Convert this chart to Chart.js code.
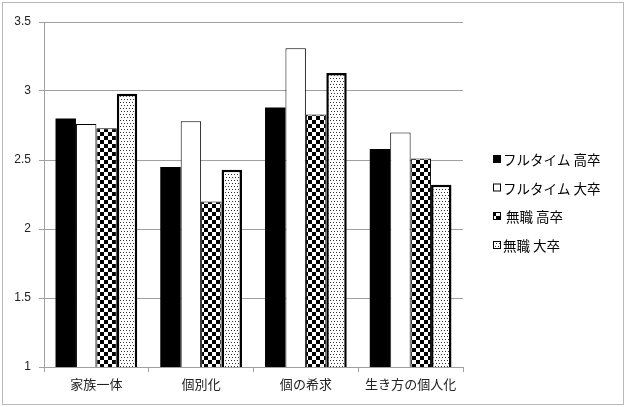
<!DOCTYPE html>
<html>
<head>
<meta charset="utf-8">
<script src="https://cdn.jsdelivr.net/npm/chart.js@4/dist/chart.umd.min.js"></script>
<style>
html,body{margin:0;padding:0;background:#fff;}
#wrap{width:628px;height:407px;}
</style>
</head>
<body>
<div id="wrap"><canvas id="c" width="628" height="407"></canvas></div>
<script>
const categories = ['家族一体', '個別化', '個の希求', '生き方の個人化'];
const seriesNames = ['フルタイム 高卒', 'フルタイム 大卒', ' 無職 高卒', '無職 大卒'];
const fullHigh = [2.80, 2.45, 2.88, 2.58];
const fullUniv = [2.76, 2.78, 3.31, 2.70];
const noJobHigh = [2.73, 2.20, 2.83, 2.51];
const noJobUniv = [2.98, 2.43, 3.13, 2.32];
const yTickLabels = ['1', '1.5', '2', '2.5', '3', '3.5'];

function makePattern(kind) {
  const t = document.createElement('canvas');
  const g = t.getContext('2d');
  if (kind === 'checker') {
    t.width = 8; t.height = 8;
    g.fillStyle = '#fff'; g.fillRect(0, 0, 8, 8);
    g.fillStyle = '#000';
    g.fillRect(0, 0, 4, 4); g.fillRect(4, 4, 4, 4);
  } else {
    t.width = 6; t.height = 6;
    g.fillStyle = '#fff'; g.fillRect(0, 0, 6, 6);
    g.fillStyle = '#333';
    g.fillRect(0, 0, 1, 1); g.fillRect(3, 0, 1, 1);
    g.fillRect(1, 3, 1, 1); g.fillRect(4, 3, 1, 1);
  }
  return g.createPattern(t, 'repeat');
}
const checker = makePattern('checker');
const dots = makePattern('dots');

const seriesValues = [fullHigh, fullUniv, noJobHigh, noJobUniv];
const fills = ['#000000', '#ffffff', checker, dots];
const borderWidths = [0, 1, 1, 2.5];

const frame = {
  id: 'frame',
  beforeDraw(chart) {
    const ctx = chart.ctx;
    ctx.save();
    ctx.fillStyle = '#fff';
    ctx.fillRect(0, 0, chart.width, chart.height);
    ctx.strokeStyle = '#b8b8b8';
    ctx.lineWidth = 1;
    ctx.strokeRect(2.5, 2.5, 621, 402);
    ctx.restore();
  }
};

const legendBox = {
  id: 'legendBox',
  afterDraw(chart) {
    const ctx = chart.ctx;
    ctx.save();
    const ys = [159, 187.5, 216, 245];
    chart.data.datasets.forEach((ds, i) => {
      const y = ys[i];
      ctx.fillStyle = ds.backgroundColor;
      ctx.fillRect(493, y - 4, 8, 8);
      ctx.strokeStyle = '#000';
      ctx.lineWidth = 1;
      ctx.strokeRect(493.5, y - 3.5, 7, 7);
      ctx.fillStyle = '#000';
      ctx.font = '13.5px "Noto Sans CJK JP"';
      ctx.textAlign = 'left';
      ctx.textBaseline = 'middle';
      ctx.fillText(ds.label, 503, y + 1);
    });
    ctx.restore();
  }
};

new Chart(document.getElementById('c'), {
  type: 'bar',
  data: {
    labels: categories,
    datasets: seriesValues.map((vals, i) => ({
      label: seriesNames[i],
      data: vals,
      backgroundColor: fills[i],
      borderColor: '#000',
      borderWidth: borderWidths[i],
      categoryPercentage: 0.78,
      barPercentage: 1.0
    }))
  },
  options: {
    responsive: false,
    devicePixelRatio: 1,
    animation: false,
    layout: { padding: { left: 0, right: 165, top: 22, bottom: 0 } },
    plugins: { legend: { display: false }, tooltip: { enabled: false } },
    scales: {
      x: {
        grid: { drawOnChartArea: false, drawTicks: true, tickLength: 5, color: '#a0a0a0' },
        border: { color: '#a0a0a0' },
        ticks: { color: '#222', font: { family: '"Noto Sans CJK JP"', size: 13 }, padding: 4, maxRotation: 0 },
        afterFit(s) { s.height = 40; }
      },
      y: {
        min: 1, max: 3.5,
        grid: { color: '#a0a0a0', tickLength: 5 },
        border: { color: '#a0a0a0' },
        ticks: {
          stepSize: 0.5,
          color: '#222',
          padding: 8,
          font: { family: '"Liberation Sans"', size: 12 },
          callback: (v, i) => yTickLabels[i]
        },
        afterFit(s) { s.width = 44; }
      }
    }
  },
  plugins: [frame, legendBox]
});
</script>
</body>
</html>
